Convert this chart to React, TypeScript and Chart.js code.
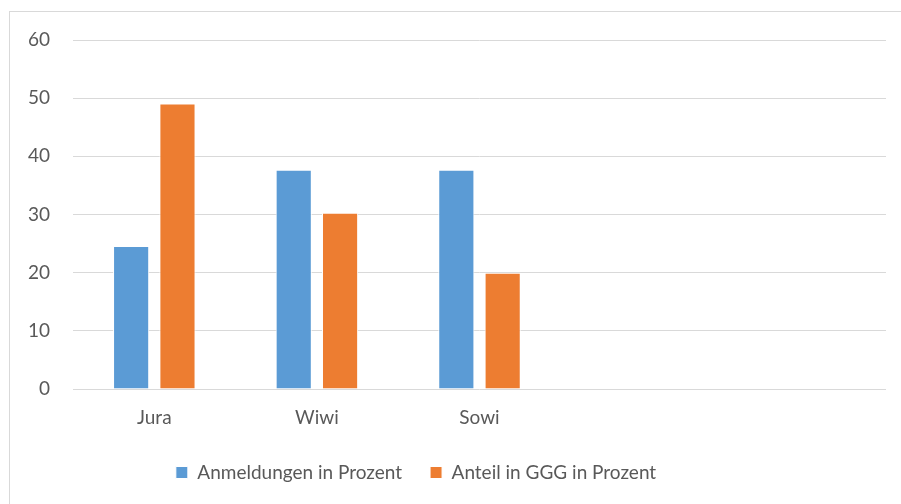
import React, { useEffect, useRef } from "react";
import { Chart, registerables } from "chart.js";

Chart.register(...registerables);

const categories = ["Jura", "Wiwi", "Sowi", "", ""];
const anmeldungen = [24.6, 37.7, 37.7, null, null];
const anteilGGG = [49.1, 30.3, 20.0, null, null];
const yTicks = [0, 10, 20, 30, 40, 50, 60];

const FONT = "Lato";
const TEXT = "#595959";

const framePlugin = {
  id: "frame",
  beforeDraw(chart: any) {
    const ctx = chart.ctx;
    ctx.save();
    ctx.fillStyle = "#ffffff";
    ctx.fillRect(0, 0, chart.width, chart.height);
    ctx.strokeStyle = "#d9d9d9";
    ctx.lineWidth = 1;
    ctx.strokeRect(9.5, 11.5, 2000, 2000);
    ctx.restore();
  },
  afterLayout(chart: any) {
    const lg = chart.legend;
    if (lg) {
      lg.left -= 27;
      lg.right -= 27;
    }
  },
};

export default function App() {
  const ref = useRef<HTMLCanvasElement | null>(null);
  useEffect(() => {
    if (!ref.current) return;
    const chart = new Chart(ref.current, {
      type: "bar",
      data: {
        labels: categories,
        datasets: [
          {
            label: "Anmeldungen in Prozent",
            data: anmeldungen,
            backgroundColor: "#5B9BD5",
            borderColor: "#ffffff",
            borderWidth: 1,
            borderSkipped: "bottom",
            categoryPercentage: 0.57,
            barPercentage: 0.78,
          },
          {
            label: "Anteil in GGG in Prozent",
            data: anteilGGG,
            backgroundColor: "#ED7D31",
            borderColor: "#ffffff",
            borderWidth: 1,
            borderSkipped: "bottom",
            categoryPercentage: 0.57,
            barPercentage: 0.78,
          },
        ],
      },
      options: {
        responsive: false,
        animation: false,
        layout: { padding: { top: 40, right: 15, bottom: 12, left: 0 } },
        plugins: {
          tooltip: { enabled: false },
          legend: {
            position: "bottom",
            labels: {
              boxWidth: 12,
              boxHeight: 12,
              padding: 28,
              color: TEXT,
              font: { family: FONT, size: 19 },
            },
          },
        },
        scales: {
          x: {
            grid: { display: false, drawTicks: false },
            border: { display: false },
            ticks: { color: TEXT, font: { family: FONT, size: 19 }, padding: 17 },
            afterFit(scale: any) {
              scale.height = 46;
            },
          },
          y: {
            min: yTicks[0],
            max: yTicks[yTicks.length - 1],
            grid: { color: "#d9d9d9", lineWidth: 1, drawTicks: false },
            border: { display: false },
            ticks: {
              stepSize: 10,
              color: TEXT,
              font: { family: FONT, size: 19 },
              padding: 23,
            },
            afterFit(scale: any) {
              scale.width = 73;
            },
          },
        },
      },
      plugins: [framePlugin],
    });
    return () => chart.destroy();
  }, []);
  return (
    <canvas
      ref={ref}
      width={901}
      height={504}
      style={{ position: "fixed", left: 0, top: 0, display: "block" }}
    />
  );
}
